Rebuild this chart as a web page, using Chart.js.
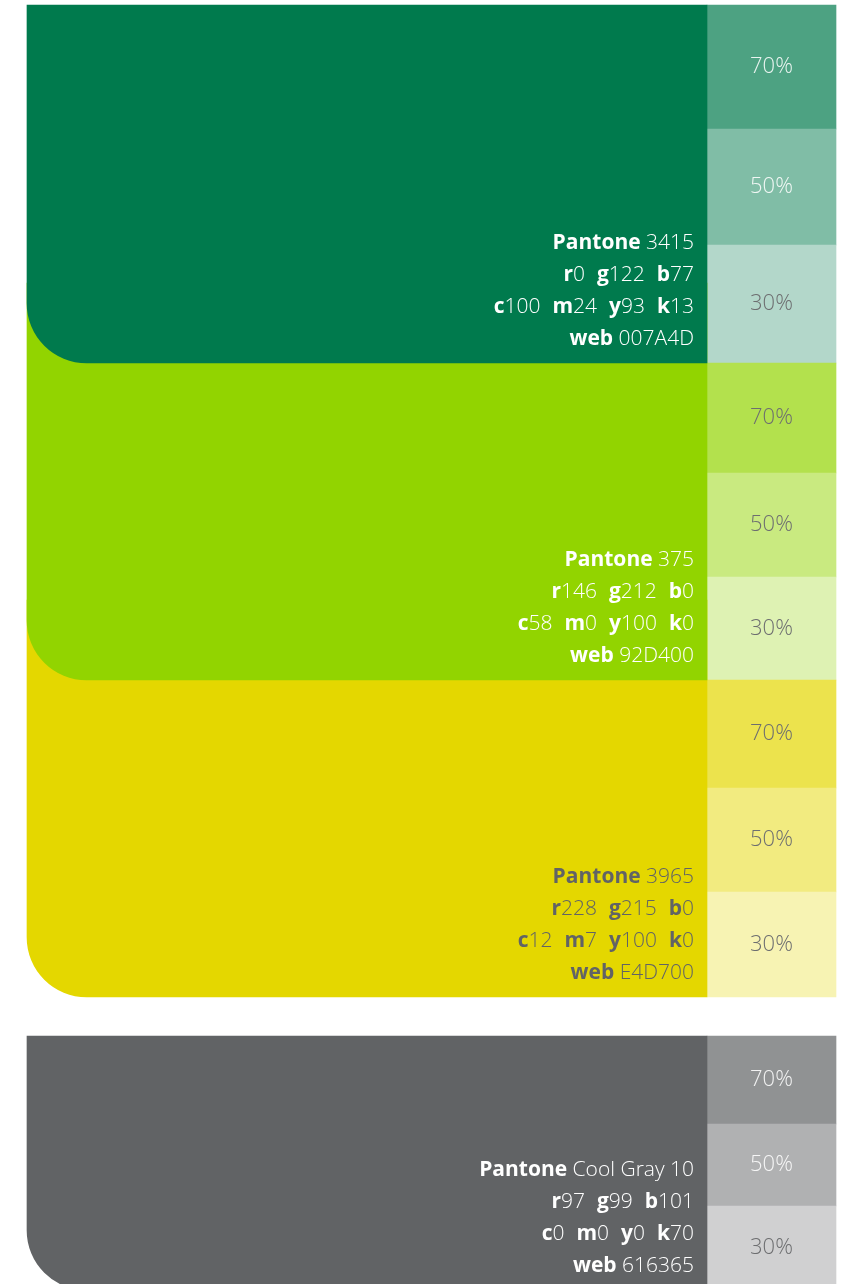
<!DOCTYPE html>
<html>
<head>
<meta charset="utf-8">
<script src="https://cdn.jsdelivr.net/npm/chart.js@4.4.1/dist/chart.umd.min.js"></script>
<style>
  html, body { margin: 0; padding: 0; background: #ffffff; }
  canvas { display: block; }
</style>
</head>
<body>
<canvas id="chart" width="849" height="1284"></canvas>
<script>
// palette data
const swatchNames = ['3415', '375', '3965', 'Cool Gray 10'];
const rgbValues = [[0, 122, 77], [146, 212, 0], [228, 215, 0], [97, 99, 101]];
const cmykValues = [[100, 24, 93, 13], [58, 0, 100, 0], [12, 7, 100, 0], [0, 0, 0, 70]];
const webCodes = ['007A4D', '92D400', 'E4D700', '616365'];
const tintLevels = [70, 50, 30];

// layout of the sheet (page units = px)
const blockTops = [5, 283, 600, 1036];
const blockBottoms = [363, 680, 997, 1290];
const tintEdges = [
    [5, 129, 245, 363],
    [363, 473, 577, 680],
    [680, 788, 892, 997],
    [1036, 1124, 1206, 1290]
];
const mainCenter = 367, mainWidth = 680;
const tintCenter = 771.5, tintWidth = 129;
const cornerRadius = 60;

// styles
const infoColors = ['#ffffff', '#ffffff', '#616365', '#ffffff'];
const tintLabelLight = [[true, true, false], [false, false, false], [false, false, false], [true, true, false]];
const fontFamily = '"Open Sans", "Noto Sans", sans-serif';
const infoSize = 21;

function toHex(c) {
    return '#' + c.map(v => Math.round(v).toString(16).padStart(2, '0')).join('');
}
function tint(c, pct) {
    return toHex(c.map(v => 255 - (pct / 100) * (255 - v)));
}

const datasets = swatchNames.map((name, i) => ({
    label: 'Pantone ' + name,
    data: [{ x: mainCenter, y: [blockTops[i], blockBottoms[i]] }],
    backgroundColor: toHex(rgbValues[i]),
    barThickness: mainWidth,
    borderRadius: { topLeft: 0, topRight: 0, bottomLeft: cornerRadius, bottomRight: 0 },
    borderSkipped: false,
    borderWidth: 0,
    grouped: false
}));

const tintData = [];
const tintColors = [];
swatchNames.forEach((name, i) => {
    tintLevels.forEach((t, j) => {
        tintData.push({ x: tintCenter, y: [tintEdges[i][j], tintEdges[i][j + 1]] });
        tintColors.push(tint(rgbValues[i], t));
    });
});
datasets.push({
    label: 'tints',
    data: tintData,
    backgroundColor: tintColors,
    barThickness: tintWidth,
    borderRadius: 0,
    borderSkipped: false,
    borderWidth: 0,
    grouped: false
});

function drawLine(ctx, segs, right, baseline, color) {
    const gap = 12;
    let total = 0;
    segs.forEach(s => {
        if (s[0] === 'gap') { total += gap; return; }
        ctx.font = (s[0] === 'b' ? '700 ' : '300 ') + infoSize + 'px ' + fontFamily;
        s.w = ctx.measureText(s[1]).width;
        total += s.w;
    });
    let x = right - total;
    ctx.fillStyle = color;
    ctx.textAlign = 'left';
    ctx.textBaseline = 'alphabetic';
    segs.forEach(s => {
        if (s[0] === 'gap') { x += gap; return; }
        ctx.font = (s[0] === 'b' ? '700 ' : '300 ') + infoSize + 'px ' + fontFamily;
        ctx.fillText(s[1], x, baseline);
        x += s.w;
    });
}

const swatchText = {
    id: 'swatchText',
    afterDatasetsDraw(chart) {
        const ctx = chart.ctx;
        ctx.save();
        swatchNames.forEach((name, i) => {
            const bar = chart.getDatasetMeta(i).data[0];
            const right = bar.x + bar.width / 2 - 13;
            const bottom = Math.max(bar.y, bar.base);
            const rgb = rgbValues[i], cmyk = cmykValues[i];
            const lines = [
                [['b', 'Pantone'], ['l', ' ' + name]],
                [['b', 'r'], ['l', String(rgb[0])], ['gap'], ['b', 'g'], ['l', String(rgb[1])], ['gap'], ['b', 'b'], ['l', String(rgb[2])]],
                [['b', 'c'], ['l', String(cmyk[0])], ['gap'], ['b', 'm'], ['l', String(cmyk[1])], ['gap'], ['b', 'y'], ['l', String(cmyk[2])], ['gap'], ['b', 'k'], ['l', String(cmyk[3])]],
                [['b', 'web'], ['l', ' ' + webCodes[i]]]
            ];
            const offsets = [114, 82, 50, 18];
            lines.forEach((segs, k) => drawLine(ctx, segs, right, bottom - offsets[k], infoColors[i]));
        });

        const tintMeta = chart.getDatasetMeta(swatchNames.length);
        tintMeta.data.forEach((bar, k) => {
            const i = Math.floor(k / tintLevels.length), j = k % tintLevels.length;
            const cy = (bar.y + bar.base) / 2 - 2;
            ctx.font = '300 22px ' + fontFamily;
            ctx.textAlign = 'center';
            ctx.textBaseline = 'alphabetic';
            ctx.fillStyle = tintLabelLight[i][j] ? 'rgba(255,255,255,0.88)' : '#6d6e70';
            ctx.fillText(tintLevels[j] + '%', bar.x, cy + 8);
        });
        ctx.restore();
    }
};

const ctx = document.getElementById('chart');
const chart = new Chart(ctx, {
    type: 'bar',
    data: { datasets: datasets },
    options: {
        animation: false,
        responsive: false,
        layout: { padding: 0 },
        plugins: {
            legend: { display: false },
            tooltip: { enabled: false }
        },
        scales: {
            x: { type: 'linear', min: 0, max: 849, offset: false, display: false },
            y: { type: 'linear', min: 0, max: 1284, reverse: true, display: false }
        }
    },
    plugins: [swatchText]
});
</script>
</body>
</html>
